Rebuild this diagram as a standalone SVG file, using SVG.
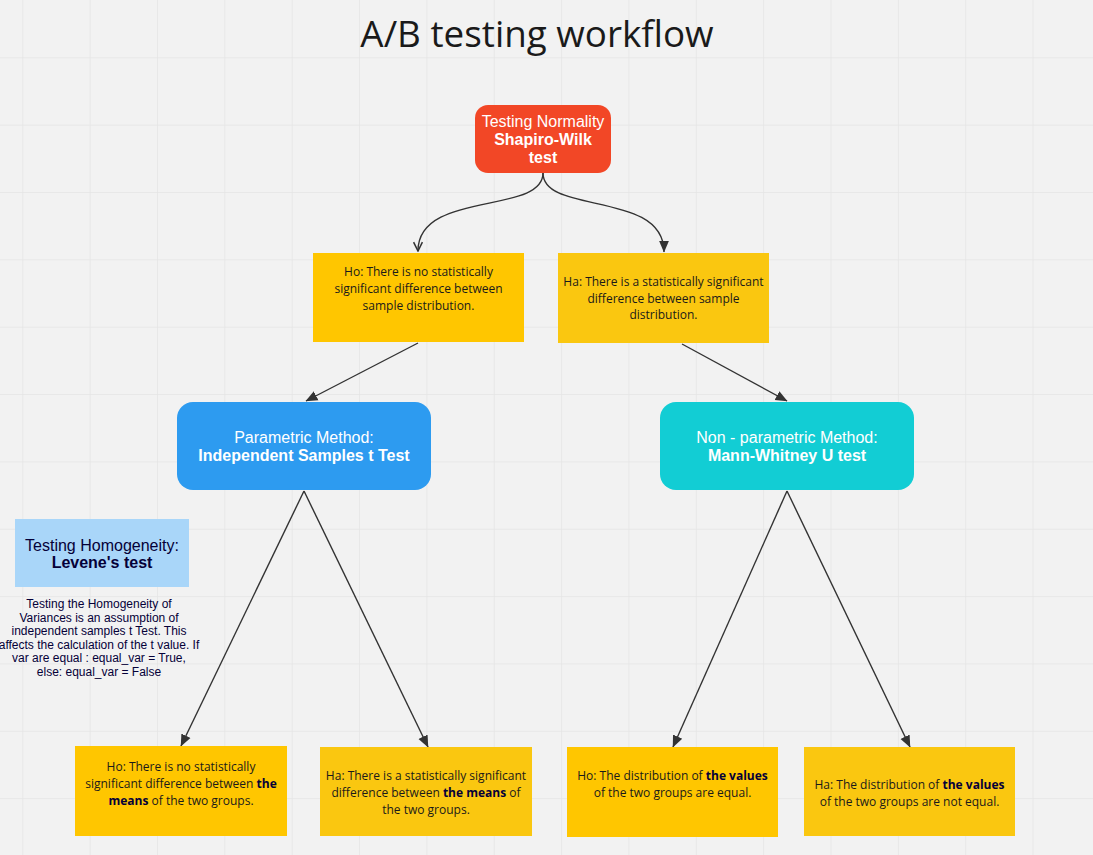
<svg xmlns="http://www.w3.org/2000/svg" width="1093" height="855" viewBox="0 0 1093 855">
<defs>
<pattern id="grid" patternUnits="userSpaceOnUse" x="22.3" y="57.3" width="67.35" height="67.35">
<path d="M0,0 H67.35 M0,0 V67.35" stroke="#e5e5e5" stroke-width="1.5" fill="none"/>
</pattern>
<marker id="af" viewBox="0 0 10 10" refX="9.5" refY="5" markerWidth="12" markerHeight="12" markerUnits="userSpaceOnUse" orient="auto">
<path d="M0,0.8 L10,5 L0,9.2 z" fill="#333"/>
</marker>
<marker id="ao" viewBox="0 0 10 10" refX="9" refY="5" markerWidth="11" markerHeight="11" markerUnits="userSpaceOnUse" orient="auto">
<path d="M1,1 L9,5 L1,9" fill="none" stroke="#333" stroke-width="1.4"/>
</marker>
</defs>
<style>
.title{font-family:"Open Sans",sans-serif;font-size:36.8px;fill:#1a1a1a}
.w{font-family:"Liberation Sans",Arial,sans-serif;font-size:16px;fill:#ffffff;text-anchor:middle}
.nv{font-family:"Liberation Sans",Arial,sans-serif;font-size:16px;fill:#050038;text-anchor:middle}
.sm{font-family:"Liberation Sans",Arial,sans-serif;font-size:12px;fill:#050038;text-anchor:middle}
.y{font-family:"Open Sans",sans-serif;font-size:12px;fill:#1a1a1a;text-anchor:middle}
.b{font-weight:bold}
.yb{font-weight:bold;fill:#050038}
.c{fill:none;stroke:#333;stroke-width:1.4}
.ho{fill:#ffc600}
.ha{fill:#fac710}
</style>
<rect width="1093" height="855" fill="#f2f2f2"/>
<rect width="1093" height="855" fill="url(#grid)"/>
<text class="title" x="537" y="47" text-anchor="middle">A/B testing workflow</text>

<g id="connectors">
<path class="c" d="M543,173 C543,215 418,190 418,251" marker-end="url(#ao)"/>
<path class="c" d="M543,173 C543,215 664,190 664,252" marker-end="url(#af)"/>
<line class="c" x1="418" y1="343" x2="306" y2="401" marker-end="url(#af)"/>
<line class="c" x1="682" y1="344" x2="787" y2="401" marker-end="url(#af)"/>
<line class="c" x1="304" y1="491" x2="181" y2="746" marker-end="url(#af)"/>
<line class="c" x1="304" y1="491" x2="428" y2="747" marker-end="url(#af)"/>
<line class="c" x1="787" y1="491" x2="673" y2="747" marker-end="url(#af)"/>
<line class="c" x1="787" y1="491" x2="910" y2="747" marker-end="url(#af)"/>
</g>

<g id="normality">
<rect x="475" y="105" width="136" height="68" rx="13" fill="#f24726"/>
<text class="w" x="543" y="127">Testing Normality</text>
<text class="w b" x="543" y="145">Shapiro-Wilk</text>
<text class="w b" x="543" y="163">test</text>
</g>

<g id="ho1">
<rect class="ho" x="313" y="253" width="211" height="89"/>
<text class="y" x="418.5" y="276">Ho: There is no statistically</text>
<text class="y" x="418.5" y="293">significant difference between</text>
<text class="y" x="418.5" y="310">sample distribution.</text>
</g>

<g id="ha1">
<rect class="ha" x="558" y="253" width="211" height="90"/>
<text class="y" x="663.5" y="286">Ha: There is a statistically significant</text>
<text class="y" x="663.5" y="303">difference between sample</text>
<text class="y" x="663.5" y="319">distribution.</text>
</g>

<g id="parametric">
<rect x="177" y="402" width="254" height="88" rx="16" fill="#2d9bf0"/>
<text class="w" x="304" y="443">Parametric Method:</text>
<text class="w b" x="304" y="461">Independent Samples t Test</text>
</g>

<g id="nonparametric">
<rect x="660" y="402" width="254" height="88" rx="16" fill="#12cdd4"/>
<text class="w" x="787" y="443">Non - parametric Method:</text>
<text class="w b" x="787" y="461">Mann-Whitney U test</text>
</g>

<g id="levene">
<rect x="15" y="519" width="174" height="68" fill="#a9d6f9"/>
<text class="nv" x="102" y="551">Testing Homogeneity:</text>
<text class="nv b" x="102" y="568">Levene's test</text>
</g>

<g id="levene-note">
<text class="sm" x="99" y="608">Testing the Homogeneity of</text>
<text class="sm" x="99" y="621.5">Variances is an assumption of</text>
<text class="sm" x="99" y="635">independent samples t Test. This</text>
<text class="sm" x="99" y="648.5">affects the calculation of the t value. If</text>
<text class="sm" x="99" y="662">var are equal : equal_var = True,</text>
<text class="sm" x="99" y="675.5">else: equal_var = False</text>
</g>

<g id="ho2">
<rect class="ho" x="75" y="746" width="212" height="90"/>
<text class="y" x="181" y="770.5">Ho: There is no statistically</text>
<text class="y" x="181" y="787.5">significant difference between <tspan class="yb">the</tspan></text>
<text class="y" x="181" y="804.5"><tspan class="yb">means</tspan> of the two groups.</text>
</g>

<g id="ha2">
<rect class="ha" x="320" y="747" width="212" height="89"/>
<text class="y" x="426" y="779.5">Ha: There is a statistically significant</text>
<text class="y" x="426" y="796.5">difference between <tspan class="yb">the means</tspan> of</text>
<text class="y" x="426" y="813.5">the two groups.</text>
</g>

<g id="ho3">
<rect class="ho" x="567" y="747" width="211" height="90"/>
<text class="y" x="672.5" y="779.5">Ho: The distribution of <tspan class="yb">the values</tspan></text>
<text class="y" x="672.5" y="796.5">of the two groups are equal.</text>
</g>

<g id="ha3">
<rect class="ha" x="804" y="747" width="211" height="89"/>
<text class="y" x="909.5" y="788.5">Ha: The distribution of <tspan class="yb">the values</tspan></text>
<text class="y" x="909.5" y="805.5">of the two groups are not equal.</text>
</g>
</svg>
